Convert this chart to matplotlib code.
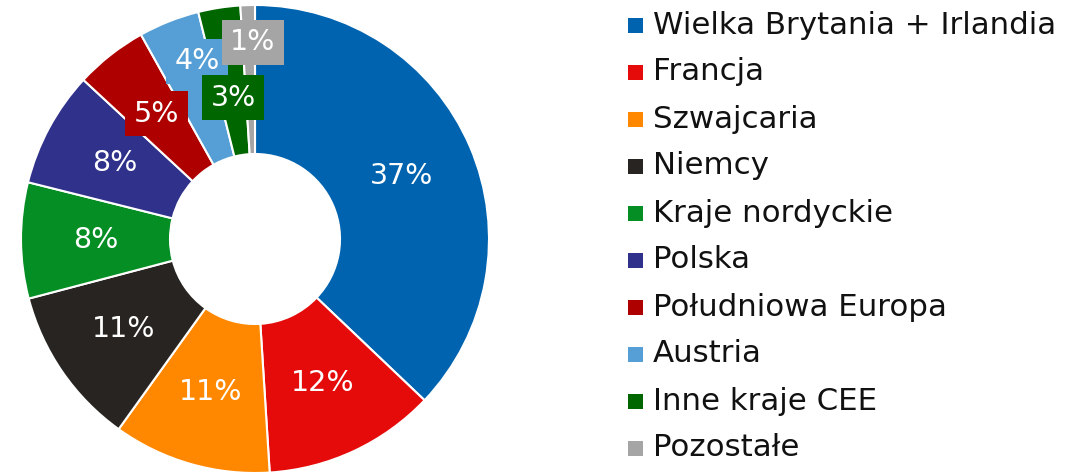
import matplotlib
matplotlib.use("Agg")
import matplotlib.pyplot as plt
from matplotlib.patches import Rectangle
import numpy as np

categories = ["Wielka Brytania + Irlandia", "Francja", "Szwajcaria", "Niemcy",
              "Kraje nordyckie", "Polska", "Południowa Europa", "Austria",
              "Inne kraje CEE", "Pozostałe"]
values = [37.1, 11.9, 10.9, 11.0, 8.0, 8.0, 5.0, 4.2, 2.9, 1.0]
colors = ["#0063AF", "#E50B0B", "#FF8800", "#282421", "#058E23",
          "#2F318B", "#AF0000", "#559ED6", "#006600", "#A5A5A5"]

plt.rcParams['font.family'] = ['DejaVu Sans']

W, H = 1087, 475
fig = plt.figure(figsize=(W / 100, H / 100), dpi=100)

cx, cy, R = 255, 239, 234
ax = fig.add_axes([(cx - R) / W, (H - cy - R) / H, 2 * R / W, 2 * R / H])

wedges, _ = ax.pie(values, colors=colors, startangle=90, counterclock=False,
                   radius=1.0,
                   wedgeprops=dict(width=1 - 85 / 234, edgecolor="white", linewidth=1.5))
ax.set_xlim(-1, 1)
ax.set_ylim(-1, 1)
ax.set_aspect("equal")
ax.axis("off")

# label radii (fraction of outer radius) and angle shifts (deg); small slices shifted / boxed
label_r = [0.68] * 10
label_shift = [0.0] * 10
label_r[7], label_shift[7] = 0.80, -3.5
label_r[8] = 0.61
label_r[9], label_shift[9] = 0.84, -1.2
boxed = {6, 7, 8, 9}
order = list(range(7)) + [7, 6, 8, 9]
for i in order:
    w = wedges[i]
    ang = np.deg2rad((w.theta1 + w.theta2) / 2 + label_shift[i])
    r = label_r[i]
    x, y = r * np.cos(ang), r * np.sin(ang)
    kw = {}
    if i in boxed:
        kw["bbox"] = dict(boxstyle="square,pad=0.3", facecolor=colors[i], edgecolor="none")
    ax.text(x, y, f"{round(values[i])}%", ha="center", va="center", color="white",
            fontsize=20.5, zorder=5 + order.index(i), **kw)

# legend
y0, dy = 25, 47
for i, cat in enumerate(categories):
    yc = y0 + i * dy
    fig.patches.append(Rectangle(((628) / W, (H - yc - 7.5) / H), 15 / W, 15 / H,
                                 transform=fig.transFigure, facecolor=colors[i],
                                 edgecolor="none"))
    fig.text(653 / W, (H - yc) / H, cat, ha="left", va="center", fontsize=22.2,
             color="#111111")

fig.savefig("out.png", dpi=100)
